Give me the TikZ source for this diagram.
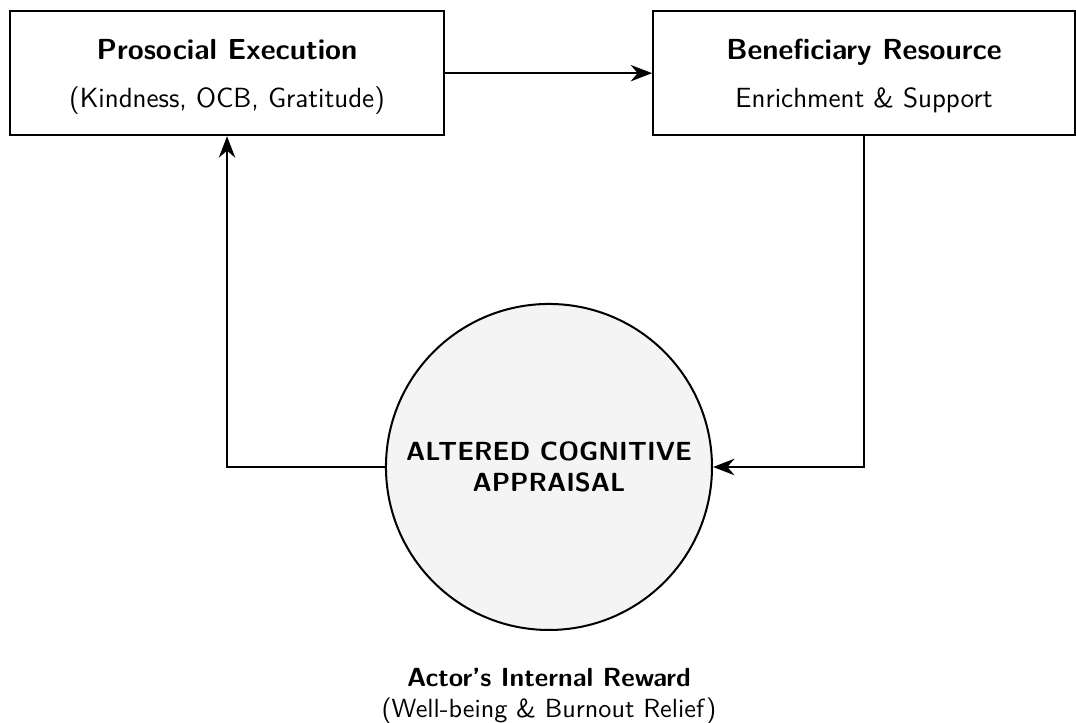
\documentclass[tikz,border=0pt]{standalone}
\usepackage{tikz}
\usetikzlibrary{arrows.meta}
\definecolor{appraisalgray}{gray}{0.955}
\tikzstyle{stage}=[draw, thick, rectangle, align=center, inner sep=0, minimum height=1.73cm, font=\sffamily\fontsize{11}{13.5}\selectfont]
\tikzstyle{appraisal}=[draw, thick, circle, fill=appraisalgray, align=center, inner sep=0, minimum size=4.545cm, font=\sffamily\bfseries\fontsize{10.4}{12.3}\selectfont]
\tikzstyle{flow}=[thick, -{Stealth[length=8.5pt, width=6.5pt]}]
\tikzstyle{loopdiagram}=[every node/.style={text depth=0pt},
                         % Fix the margins to the size of the reference.
                         execute at end picture={\useasboundingbox (0, 0) rectangle (15, -10.079);}]

\begin{document}
\begin{tikzpicture}[loopdiagram]
        \useasboundingbox (0, 0) rectangle (15, -10.079);
        \node[stage, minimum width=6.05cm] (exec) at (3.165, -1.02) {\textbf{\fontsize{11.5}{13.5}\selectfont Prosocial Execution}\\[5.5pt](Kindness, OCB, Gratitude)};
        \node[stage, minimum width=5.88cm] (benef) at (12.045, -1.02) {\textbf{\fontsize{11.5}{13.5}\selectfont Beneficiary Resource}\\[5.5pt]Enrichment \& Support};
        \node[appraisal] (alter) at (7.653, -6.51) {ALTERED COGNITIVE\\APPRAISAL};
        \node[align=center, font=\sffamily\fontsize{10.4}{12}\selectfont] (reward) at (7.653, -9.66) {\textbf{Actor's Internal Reward}\\(Well-being \& Burnout Relief)};
        \draw[flow] (exec.east) -- (benef.west);
        \draw[flow] (benef.south) |- (alter.east);
        \draw[flow] (alter.west) -| (exec.south);
    \end{tikzpicture}
\end{document}
